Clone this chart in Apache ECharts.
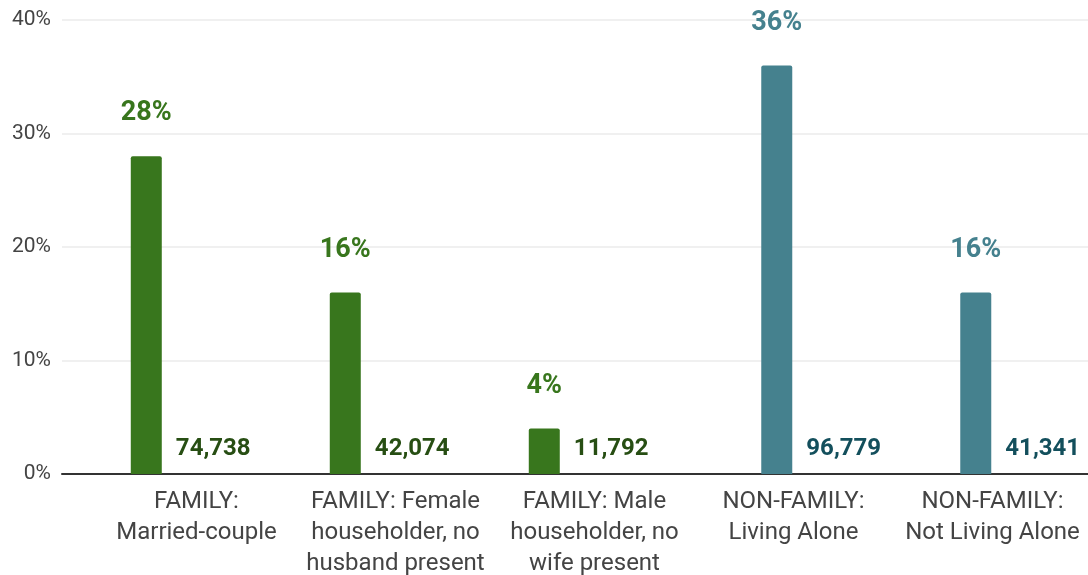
<!DOCTYPE html>
<html>
<head>
<meta charset="utf-8">
<script src="https://cdn.jsdelivr.net/npm/echarts@6/dist/echarts.min.js"></script>
<style>
  html, body { margin: 0; padding: 0; background: #fff; }
  #chart { width: 1088px; height: 575px; }
</style>
</head>
<body>
<div id="chart"></div>
<script>
// household types
var categories = [
    'FAMILY:\nMarried-couple',
    'FAMILY: Female\nhouseholder, no\nhusband present',
    'FAMILY: Male\nhouseholder, no\nwife present',
    'NON-FAMILY:\nLiving Alone',
    'NON-FAMILY:\nNot Living Alone'
];
var familyPct = [28, 16, 4, '-', '-'];
var nonFamilyPct = ['-', '-', '-', 36, 16];
var familyCount = [74738, 42074, 11792, '-', '-'];
var nonFamilyCount = ['-', '-', '-', 96779, 41341];
var yTicks = [0, 10, 20, 30, 40];

var font = 'Roboto';
var myChart = echarts.init(document.getElementById('chart'));

function pctSeries(data, color) {
    return {
        type: 'bar',
        xAxisIndex: 1,
        yAxisIndex: 1,
        data: data,
        barWidth: 31,
        barGap: '8%',
        itemStyle: { color: color, borderRadius: [2, 2, 0, 0] },
        label: {
            show: true,
            position: 'top',
            distance: 29,
            formatter: '{c}%',
            color: color,
            fontFamily: font,
            fontWeight: 'bold',
            fontSize: 27
        }
    };
}

function countSeries(data, color) {
    return {
        type: 'bar',
        xAxisIndex: 1,
        yAxisIndex: 2,
        data: data,
        barWidth: 31,
        barGap: '8%',
        itemStyle: { color: 'rgba(0,0,0,0)' },
        label: {
            show: true,
            position: 'insideBottom',
            distance: 13,
            formatter: function (p) { return p.value.toLocaleString('en-US'); },
            color: color,
            fontFamily: font,
            fontWeight: 'bold',
            fontSize: 24
        }
    };
}

var option = {
    animation: false,
    grid: [
        { left: 62, right: 0, top: 20, bottom: 101, outerBoundsMode: 'none' },
        { left: 97, right: -4, top: 20, bottom: 101, outerBoundsMode: 'none' }
    ],
    xAxis: [
        {
            type: 'category',
            gridIndex: 0,
            data: categories,
            axisLine: { lineStyle: { color: '#333', width: 2 } },
            axisTick: { show: false },
            axisLabel: { show: false }
        },
        {
            type: 'category',
            gridIndex: 1,
            data: categories,
            axisLine: { show: false },
            axisTick: { show: false },
            axisLabel: {
                interval: 0,
                margin: 12,
                color: '#444',
                fontFamily: font,
                fontSize: 24,
                lineHeight: 31,
                align: 'center'
            }
        }
    ],
    yAxis: [
        {
            type: 'value',
            gridIndex: 0,
            min: yTicks[0],
            max: yTicks[yTicks.length - 1],
            interval: 10,
            axisLabel: {
                formatter: '{value}%',
                color: '#444',
                fontFamily: font,
                fontSize: 21,
                margin: 11
            },
            axisLine: { show: false },
            axisTick: { show: false },
            splitLine: { lineStyle: { color: '#ebebeb', width: 1.5 } }
        },
        { type: 'value', gridIndex: 1, min: 0, max: 40, show: false },
        { type: 'value', gridIndex: 1, min: 0, max: 1000000, show: false }
    ],
    series: [
        pctSeries(familyPct, '#38761d'),
        pctSeries(nonFamilyPct, '#45818e'),
        countSeries(familyCount, '#274e13'),
        countSeries(nonFamilyCount, '#134f5c')
    ]
};
myChart.setOption(option, true);
</script>
</body>
</html>
